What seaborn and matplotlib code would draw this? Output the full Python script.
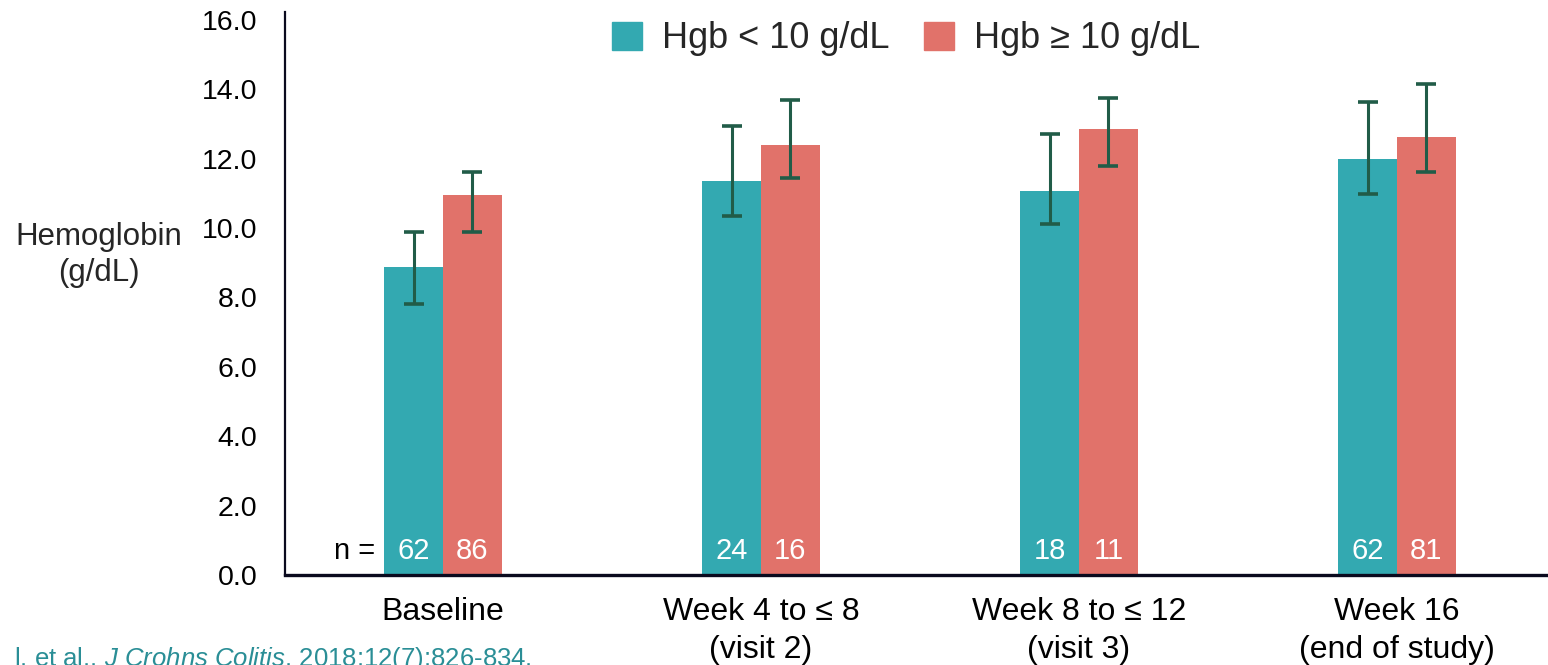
import numpy as np
import pandas as pd
import matplotlib
matplotlib.use("Agg")
import matplotlib.pyplot as plt
import seaborn as sns

# Visit labels
visits = ["Baseline", "Week 4 to \u2264 8\n(visit 2)", "Week 8 to \u2264 12\n(visit 3)", "Week 16\n(end of study)"]
groups = ["Hgb < 10 g/dL", "Hgb \u2265 10 g/dL"]

# Mean hemoglobin (g/dL) per group
low_mean = [8.88, 11.36, 11.07, 11.99]
high_mean = [10.95, 12.40, 12.86, 12.63]

# Error bar ends (g/dL)
low_upper = [9.89, 12.95, 12.72, 13.64]
low_lower = [7.81, 10.36, 10.12, 10.99]
high_upper = [11.62, 13.69, 13.76, 14.16]
high_lower = [9.90, 11.44, 11.79, 11.63]

# Patients per group
low_n = [62, 24, 18, 62]
high_n = [86, 16, 11, 81]

yticks = [0, 2, 4, 6, 8, 10, 12, 14, 16]

TEAL = "#33A9B1"
CORAL = "#E1726A"
ERR = "#215C48"
AXIS = "#0A0A1E"

sns.set_theme(style="white")
plt.rcParams["font.family"] = ["Liberation Sans", "DejaVu Sans"]
plt.rcParams["mathtext.fontset"] = "custom"
plt.rcParams["mathtext.rm"] = "Liberation Sans"
plt.rcParams["mathtext.it"] = "Liberation Sans:italic"

df = pd.DataFrame({
    "visit": visits * 2,
    "group": [groups[0]] * 4 + [groups[1]] * 4,
    "hgb": low_mean + high_mean,
})

fig = plt.figure(figsize=(15.48, 6.65), dpi=100)
ax = fig.add_axes([285 / 1548, 90 / 665, 1 - 285 / 1548, 563 / 665])

sns.barplot(data=df, x="visit", y="hgb", hue="group", order=visits, hue_order=groups,
            palette=[TEAL, CORAL], width=0.37, errorbar=None, saturation=1,
            legend=False, linewidth=0, ax=ax)

bw = 0.37 / 2
xpos = np.arange(len(visits))
for offs, mean, lo, hi, ns in [(-bw / 2, low_mean, low_lower, low_upper, low_n),
                               (bw / 2, high_mean, high_lower, high_upper, high_n)]:
    mean = np.array(mean)
    yerr = np.vstack([mean - np.array(lo), np.array(hi) - mean])
    ax.errorbar(xpos + offs, mean, yerr=yerr, fmt="none", ecolor=ERR,
                elinewidth=2.2, capsize=7, capthick=2.6, zorder=4)
    for x, n in zip(xpos + offs, ns):
        ax.text(x, 0.68, str(n), color="white", fontsize=21, ha="center", va="center")

ax.text(-0.215, 0.68, "n =", color="black", fontsize=21, ha="right", va="center")

ax.set_xlim(-0.497, 3.475)
ax.set_ylim(0, 16.23)
ax.set_yticks(yticks)
ax.set_yticklabels([f"{v:.1f}" for v in yticks], fontsize=20.5)
ax.set_xticks(xpos)
ax.set_xticklabels(visits, fontsize=23, linespacing=1.33)
ax.tick_params(axis="y", length=0, pad=20, colors="black")
ax.tick_params(axis="x", length=0, pad=16, colors="black")
ax.set_xlabel("")
ax.set_ylabel("")

for s in ["top", "right"]:
    ax.spines[s].set_visible(False)
ax.spines["left"].set_color(AXIS)
ax.spines["left"].set_linewidth(1.6)
ax.spines["bottom"].set_color(AXIS)
ax.spines["bottom"].set_linewidth(2.4)

fig.text(99 / 1548, 1 - 255 / 665, "Hemoglobin\n(g/dL)", fontsize=22.5, ha="center",
         va="center", linespacing=1.3)

# Legend
handles = [plt.Rectangle((0, 0), 1, 1, color=TEAL), plt.Rectangle((0, 0), 1, 1, color=CORAL)]
fig.legend(handles, groups, loc="center", bbox_to_anchor=(906 / 1548, 1 - 39 / 665),
           ncol=2, frameon=False, fontsize=26, handlelength=0.83, handleheight=0.83,
           handletextpad=0.55, columnspacing=0.97, borderpad=0.2)

# Reference line, partly cut at the bottom edge
fig.text(14 / 1548, 1 - 645 / 665,
         "l, et al., $\\it{J\\ Crohns\\ Colitis}$. 2018;12(7):826-834.",
         fontsize=18.5, color="#2A8E96", ha="left", va="top")

fig.savefig("out.png", dpi=100)
